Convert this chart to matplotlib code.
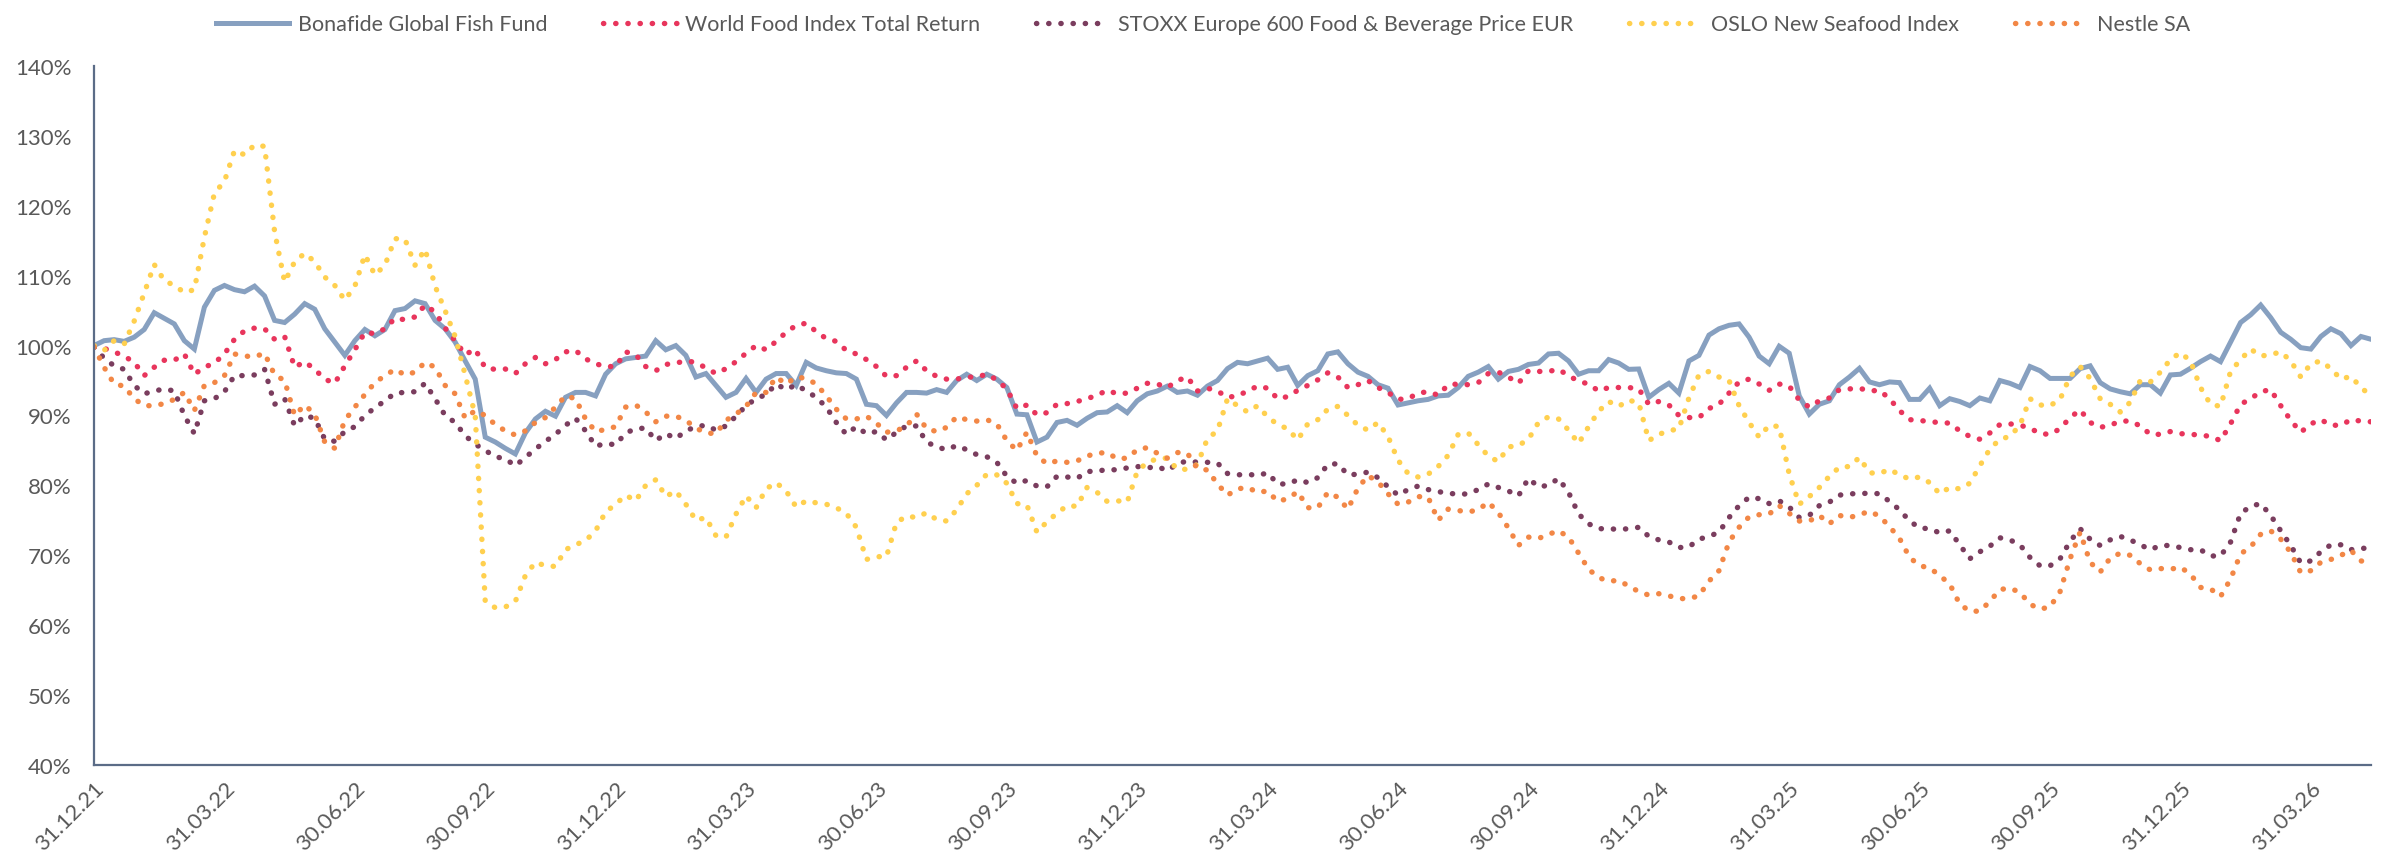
import numpy as np
import matplotlib.pyplot as plt

#-------------------------------------------------------------------
# weekly performance, indexed at 100% on 31.12.21
#-------------------------------------------------------------------
fund = [100.0, 100.7, 100.85, 100.6, 101.2, 102.3, 104.7, 103.9, 103.1, 100.7,
        99.5, 105.5, 107.9, 108.6, 108.0, 107.7, 108.5, 107.1, 103.6, 103.3,
        104.5, 106.0, 105.2, 102.4, 100.5, 98.6, 100.7, 102.3, 101.4, 102.3,
        105.0, 105.3, 106.4, 106.0, 103.6, 102.4, 100.5, 97.8, 95.2, 86.9,
        86.2, 85.3, 84.5, 87.5, 89.5, 90.6, 89.9, 92.6, 93.3, 93.3,
        92.8, 95.9, 97.4, 98.1, 98.3, 98.5, 100.7, 99.4, 100.0, 98.6,
        95.5, 96.0, 94.3, 92.6, 93.3, 95.3, 93.3, 95.2, 96.0, 96.0,
        94.3, 97.6, 96.8, 96.4, 96.1, 96.0, 95.2, 91.6, 91.4, 90.0,
        91.8, 93.3, 93.3, 93.2, 93.7, 93.3, 95.0, 95.9, 95.0, 95.9,
        95.2, 94.0, 90.2, 90.1, 86.2, 86.9, 89.0, 89.3, 88.6, 89.6,
        90.4, 90.5, 91.4, 90.4, 92.1, 93.1, 93.5, 94.2, 93.3, 93.5,
        92.9, 94.2, 95.0, 96.7, 97.6, 97.4, 97.8, 98.2, 96.6, 96.9,
        94.3, 95.7, 96.4, 98.8, 99.1, 97.4, 96.2, 95.6, 94.4, 93.9,
        91.5, 91.8, 92.1, 92.3, 92.8, 92.9, 94.0, 95.6, 96.2, 97.0,
        95.2, 96.3, 96.6, 97.3, 97.5, 98.8, 98.9, 97.8, 95.9, 96.4,
        96.4, 98.0, 97.5, 96.6, 96.65, 92.6, 93.7, 94.6, 93.2, 97.8,
        98.6, 101.5, 102.4, 102.9, 103.1, 101.2, 98.5, 97.4, 99.9, 98.9,
        92.8, 90.2, 91.6, 92.1, 94.4, 95.5, 96.75, 94.8, 94.4, 94.8,
        94.7, 92.3, 92.3, 93.9, 91.4, 92.4, 92.0, 91.4, 92.5, 92.1,
        95.0, 94.6, 94.0, 97.0, 96.4, 95.3, 95.3, 95.3, 96.7, 97.1,
        94.7, 93.8, 93.4, 93.1, 94.4, 94.4, 93.2, 95.8, 95.9, 96.75,
        97.7, 98.5, 97.7, 100.5, 103.3, 104.4, 105.8, 104.0, 101.9, 100.9,
        99.7, 99.5, 101.3, 102.4, 101.7, 100.0, 101.3, 100.9]

world_food = [99.8, 99.6, 99.1, 98.5, 97.6, 95.7, 96.9, 97.9, 97.9, 98.8,
              95.9, 96.9, 97.5, 98.8, 100.9, 102.1, 102.5, 102.4, 100.9, 101.3,
              96.9, 97.7, 96.6, 95.2, 94.6, 97.1, 99.4, 101.9, 101.7, 102.4,
              103.9, 103.7, 104.1, 105.8, 104.8, 102.5, 100.7, 98.7, 99.5, 96.8,
              96.6, 96.65, 96.0, 97.4, 98.3, 97.4, 98.0, 99.1, 99.3, 98.1,
              97.4, 97.0, 97.0, 99.1, 98.7, 97.0, 96.4, 97.3, 97.5, 97.8,
              97.6, 96.8, 96.0, 96.7, 97.7, 98.9, 100.0, 99.4, 100.6, 101.9,
              102.9, 103.2, 102.0, 101.0, 100.6, 99.3, 98.8, 98.0, 97.0, 95.6,
              95.7, 96.9, 97.8, 96.4, 95.6, 95.2, 95.2, 95.5, 95.5, 95.9,
              95.1, 93.8, 91.0, 91.5, 90.1, 90.4, 91.6, 91.7, 92.0, 92.4,
              92.9, 93.6, 93.1, 93.2, 93.9, 94.6, 94.5, 94.0, 95.0, 95.5,
              93.5, 93.9, 93.5, 92.6, 92.8, 93.5, 94.2, 93.9, 92.4, 92.7,
              93.6, 94.3, 95.1, 96.1, 95.5, 94.0, 94.4, 95.0, 94.0, 93.3,
              92.3, 92.4, 93.2, 93.4, 92.9, 94.4, 94.5, 94.4, 94.7, 96.0,
              96.2, 95.5, 94.6, 96.4, 96.3, 96.3, 96.6, 95.7, 94.9, 94.5,
              93.5, 94.0, 94.0, 94.0, 93.8, 91.6, 92.0, 91.5, 90.0, 89.7,
              89.7, 91.0, 91.6, 93.2, 94.8, 95.2, 94.5, 93.6, 94.5, 94.2,
              92.2, 91.2, 92.1, 92.5, 93.7, 93.8, 93.9, 93.5, 93.6, 92.4,
              90.7, 89.4, 89.3, 89.1, 89.0, 88.9, 87.8, 87.0, 86.6, 87.5,
              88.7, 88.8, 88.6, 88.2, 87.4, 87.3, 88.1, 89.7, 90.8, 89.0,
              88.3, 88.6, 89.2, 89.2, 88.5, 87.3, 87.3, 87.7, 87.4, 87.3,
              87.2, 87.0, 86.4, 88.8, 91.6, 92.4, 93.4, 93.7, 91.4, 89.3,
              87.6, 88.8, 89.4, 88.6, 88.6, 89.4, 89.2, 89.1]

stoxx = [99.8, 98.2, 97.1, 96.6, 94.3, 93.1, 93.5, 93.8, 93.5, 90.0,
         87.4, 92.1, 92.4, 93.4, 95.7, 95.7, 95.8, 96.6, 91.6, 92.4,
         88.5, 90.0, 89.6, 86.6, 86.3, 87.7, 88.4, 90.0, 91.1, 92.1,
         93.2, 93.3, 93.4, 94.6, 92.4, 90.0, 89.0, 87.1, 85.9, 85.0,
         84.1, 83.8, 82.8, 84.0, 85.2, 86.3, 87.3, 88.6, 89.6, 87.8,
         85.6, 86.0, 85.8, 87.5, 88.1, 88.2, 86.4, 87.4, 86.7, 87.8,
         88.4, 88.6, 87.9, 88.5, 89.9, 91.4, 92.4, 93.0, 94.5, 93.7,
         94.4, 93.5, 92.6, 91.2, 89.0, 87.3, 88.4, 87.4, 87.7, 86.5,
         87.6, 88.5, 88.5, 86.2, 85.5, 85.1, 85.7, 85.1, 84.4, 84.1,
         83.3, 81.3, 80.3, 80.7, 79.9, 79.8, 81.3, 81.2, 81.0, 82.0,
         82.0, 82.3, 82.2, 82.5, 82.7, 82.5, 82.7, 82.1, 83.1, 83.5,
         83.3, 83.3, 83.2, 81.7, 81.5, 81.6, 81.4, 81.8, 80.2, 80.2,
         80.8, 80.4, 81.1, 83.0, 83.1, 81.5, 81.6, 81.9, 81.1, 79.8,
         78.6, 79.4, 79.9, 79.4, 79.1, 78.9, 78.7, 78.8, 79.4, 80.2,
         79.7, 79.2, 78.5, 81.0, 79.8, 80.0, 81.0, 79.0, 75.9, 74.5,
         73.8, 73.8, 73.7, 73.8, 74.0, 72.7, 72.2, 71.9, 71.1, 71.2,
         72.3, 72.7, 73.3, 75.4, 77.1, 78.3, 78.1, 77.4, 77.8, 76.9,
         75.4, 75.7, 77.1, 77.6, 78.6, 78.8, 78.8, 78.9, 78.8, 77.7,
         76.5, 74.9, 73.9, 73.8, 73.2, 73.5, 71.5, 69.5, 70.5, 71.3,
         72.5, 72.2, 71.5, 69.7, 68.5, 68.5, 69.5, 72.0, 73.8, 72.3,
         71.4, 72.2, 72.7, 72.2, 71.5, 70.8, 71.4, 71.4, 71.1, 70.8,
         70.8, 69.9, 69.9, 71.9, 76.0, 77.0, 77.4, 75.7, 73.5, 71.4,
         68.9, 69.2, 70.5, 71.5, 71.5, 70.8, 71.0, 71.0]

oslo = [100.0, 99.3, 100.7, 100.2, 103.5, 107.5, 111.6, 109.3, 108.6, 107.6,
        108.0, 115.5, 121.8, 123.5, 127.9, 127.3, 128.7, 128.5, 116.3, 109.1,
        112.0, 113.2, 112.0, 109.8, 108.6, 106.5, 108.5, 113.0, 110.1, 111.5,
        115.3, 115.2, 111.5, 113.8, 108.5, 105.0, 101.3, 95.8, 90.0, 63.4,
        62.5, 62.6, 63.4, 67.1, 69.0, 68.5, 68.4, 70.8, 71.5, 72.1,
        73.5, 76.2, 77.3, 78.6, 77.8, 80.0, 80.8, 78.4, 79.2, 77.3,
        75.0, 75.4, 72.8, 72.6, 75.9, 78.5, 76.8, 79.5, 80.4, 79.2,
        76.9, 77.8, 77.5, 77.3, 76.8, 76.0, 74.0, 69.4, 69.8, 69.8,
        74.7, 75.6, 75.4, 76.1, 75.1, 74.9, 76.5, 78.8, 80.0, 81.6,
        81.5, 80.3, 77.4, 77.2, 73.3, 74.8, 76.0, 77.1, 77.0, 79.7,
        79.0, 77.7, 77.8, 77.6, 82.0, 83.3, 83.8, 83.9, 82.3, 82.3,
        83.0, 86.7, 87.8, 92.4, 91.4, 90.5, 91.4, 89.8, 88.7, 88.1,
        86.5, 88.8, 89.4, 90.9, 91.3, 90.0, 88.6, 87.9, 89.0, 87.0,
        83.6, 81.7, 81.2, 81.6, 82.7, 84.3, 87.3, 87.5, 85.8, 84.2,
        83.4, 85.5, 85.7, 86.6, 89.0, 89.8, 89.5, 87.9, 86.0, 88.4,
        90.6, 92.0, 91.3, 92.2, 91.8, 86.4, 87.3, 87.8, 88.1, 92.5,
        95.8, 96.3, 95.5, 95.0, 91.4, 89.0, 86.9, 88.6, 88.4, 81.6,
        77.3, 78.4, 79.7, 81.3, 82.6, 82.7, 84.0, 81.8, 81.7, 82.3,
        81.5, 80.9, 81.2, 80.4, 78.8, 79.7, 79.5, 80.3, 82.8, 85.2,
        86.6, 87.0, 88.6, 92.4, 91.5, 91.4, 92.3, 95.6, 97.0, 95.3,
        92.4, 91.6, 90.5, 91.9, 95.0, 94.8, 96.2, 98.0, 99.0, 97.8,
        94.0, 91.6, 91.3, 96.3, 98.0, 99.5, 98.5, 98.7, 99.1, 97.8,
        95.5, 97.4, 97.8, 96.7, 95.2, 95.6, 94.0, 92.8]

nestle = [99.8, 96.9, 94.5, 94.2, 92.4, 91.4, 91.4, 91.7, 92.3, 93.3,
          90.7, 94.3, 94.7, 95.7, 98.8, 98.5, 98.4, 98.9, 95.8, 95.0,
          90.0, 91.5, 90.2, 86.2, 85.3, 89.3, 91.2, 93.0, 94.7, 95.7,
          96.6, 95.8, 96.2, 97.6, 96.9, 94.3, 93.1, 89.6, 90.7, 90.0,
          88.7, 87.8, 87.2, 87.8, 89.0, 89.7, 91.2, 92.8, 92.4, 89.5,
          87.7, 88.0, 88.4, 91.2, 91.5, 90.5, 89.1, 89.9, 89.9, 89.3,
          88.2, 87.5, 87.4, 89.3, 90.2, 91.3, 93.3, 93.3, 95.5, 94.5,
          95.5, 95.3, 94.5, 92.8, 90.9, 89.5, 89.5, 89.9, 88.9, 87.6,
          87.8, 88.5, 90.2, 88.1, 87.7, 88.3, 89.8, 89.4, 89.2, 89.4,
          88.8, 86.4, 85.0, 87.6, 84.2, 83.1, 83.5, 83.3, 83.5, 84.2,
          84.6, 84.7, 83.8, 83.9, 85.1, 85.4, 84.6, 83.9, 84.7, 84.6,
          82.4, 82.2, 80.2, 78.6, 79.5, 79.7, 79.0, 79.2, 77.7, 78.1,
          79.1, 76.8, 76.8, 79.0, 78.3, 76.6, 79.6, 81.4, 80.5, 78.8,
          77.3, 77.6, 78.4, 78.3, 75.0, 76.6, 76.4, 76.2, 76.5, 77.6,
          76.1, 73.9, 71.4, 72.6, 72.4, 73.0, 73.5, 72.6, 70.3, 68.0,
          66.8, 66.3, 66.4, 65.6, 64.8, 64.3, 64.5, 64.2, 63.8, 63.8,
          64.2, 66.3, 67.8, 71.9, 74.0, 75.5, 75.8, 75.9, 77.1, 76.0,
          74.9, 74.9, 75.7, 74.5, 75.7, 75.4, 75.8, 76.3, 75.6, 74.1,
          72.4, 69.7, 68.5, 68.2, 67.1, 65.9, 63.0, 62.0, 62.0, 63.4,
          65.1, 65.3, 64.7, 63.0, 62.3, 62.6, 64.8, 69.5, 73.3, 69.0,
          67.6, 69.6, 70.3, 70.0, 68.8, 67.9, 68.1, 68.0, 68.3, 67.3,
          65.4, 65.2, 64.1, 66.6, 70.2, 71.2, 73.0, 73.5, 72.3, 70.4,
          67.5, 67.8, 69.0, 69.4, 70.0, 70.7, 69.2, 68.8]

# quarter end labels, one every 13 weeks
tick_labels = ['31.12.21', '31.03.22', '30.06.22', '30.09.22', '31.12.22', '31.03.23',
               '30.06.23', '30.09.23', '31.12.23', '31.03.24', '30.06.24', '30.09.24',
               '31.12.24', '31.03.25', '30.06.25', '30.09.25', '31.12.25', '31.03.26']

names = ['Bonafide Global Fish Fund', 'World Food Index Total Return',
         'STOXX Europe 600 Food & Beverage Price EUR', 'OSLO New Seafood Index', 'Nestle SA']
colors = ['#87A0C0', '#E8355C', '#7A3D5E', '#FFD04F', '#F28746']

plt.rcParams['font.family'] = ['Lato', 'DejaVu Sans']
txt = '#595959'

fig = plt.figure(figsize=(23.87, 8.62), dpi=100)
ax = fig.add_axes([0.0394, 0.1114, 0.9539, 0.8109])

x = np.arange(len(fund))
dots = (0, (0.05, 2.2))

ax.plot(x, fund, color=colors[0], lw=3.6, solid_joinstyle='miter', label=names[0])
for serie, c, n in zip([world_food, stoxx, oslo, nestle], colors[1:], names[1:]):
    ax.plot(x, serie, color=c, lw=3.9, linestyle=dots, dash_capstyle='round', label=n)

ax.set_xlim(0, len(fund) - 1)
ax.set_ylim(40, 140)
ax.set_yticks(range(40, 141, 10))
ax.set_yticklabels([str(v) + '%' for v in range(40, 141, 10)])
ax.set_xticks(range(0, len(fund), 13))
ax.set_xticklabels(tick_labels, rotation=45, ha='right', rotation_mode='anchor')

ax.tick_params(axis='y', length=0, pad=16, labelsize=16, labelcolor=txt)
ax.tick_params(axis='x', length=0, pad=9, labelsize=16, labelcolor=txt)
for s in ['top', 'right']:
    ax.spines[s].set_visible(False)
for s in ['left', 'bottom']:
    ax.spines[s].set_color('#5B6C87')
    ax.spines[s].set_linewidth(1.6)

leg = fig.legend(loc='upper center', bbox_to_anchor=(0.504, 1.005), ncol=5, frameon=False,
                 fontsize=15.5, handlelength=3.4, columnspacing=2.6, handletextpad=0.4)
for t in leg.get_texts():
    t.set_color(txt)

fig.savefig('out.png', dpi=100)
